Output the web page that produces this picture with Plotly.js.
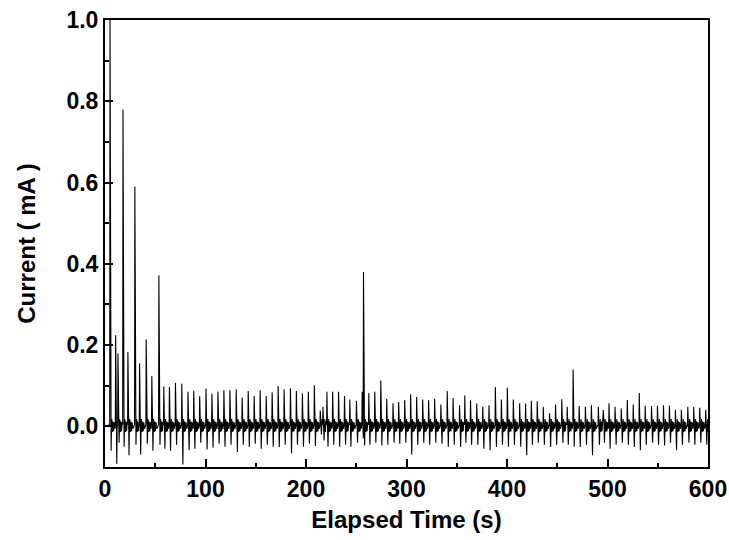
<!DOCTYPE html>
<html>
<head>
<meta charset="utf-8">
<script src="https://cdn.plot.ly/plotly-3.0.1.min.js"></script>
<style>html,body{margin:0;padding:0;background:#fff;}#chart{width:729px;height:540px;}</style>
</head>
<body>
<div id="chart"></div>
<script>
// Spike event times (s)
const spikeTime = [5.0,10.6,12.9,17.9,22.8,29.7,34.4,41.0,46.6,53.6,
  58.5,64.1,70.1,76.4,82.6,88.3,94.2,100.5,106.4,112.4,118.3,124.3,130.6,136.5,142.5,148.4,154.4,160.4,166.3,172.3,
  178.2,184.5,190.4,196.4,202.3,208.3,214.2,216.9,220.8,226.5,232.4,238.3,243.6,250.2,255.9,257.2,262.5,268.4,274.4,280.3,
  286.6,292.2,298.2,304.1,310.1,316.1,322.0,328.0,334.2,340.5,346.4,352.8,358.0,363.7,369.9,375.9,382.1,388.4,394.4,400.3,
  406.3,412.6,418.5,424.2,430.1,436.1,442.3,448.3,454.5,459.9,465.8,471.8,478.0,484.0,490.9,495.9,501.5,507.5,513.7,519.7,
  525.6,531.6,537.5,543.8,549.7,555.7,561.6,567.6,573.5,579.9,585.8,591.8,597.7];
// Peak current of each spike (mA)
const spikePeak = [1.0,0.224,0.179,0.78,0.183,0.59,0.155,0.214,0.124,0.372,
  0.098,0.097,0.107,0.105,0.085,0.088,0.074,0.093,0.080,0.086,0.089,0.089,0.091,0.071,0.087,0.075,0.089,0.075,0.084,0.099,
  0.091,0.093,0.087,0.081,0.085,0.101,0.039,0.048,0.085,0.085,0.085,0.075,0.066,0.063,0.085,0.38,0.082,0.085,0.113,0.068,
  0.057,0.060,0.064,0.079,0.072,0.066,0.064,0.068,0.054,0.087,0.070,0.052,0.076,0.064,0.056,0.048,0.052,0.097,0.066,0.095,
  0.066,0.057,0.056,0.063,0.062,0.048,0.032,0.054,0.067,0.048,0.14,0.050,0.048,0.052,0.048,0.040,0.057,0.048,0.044,0.065,
  0.054,0.082,0.051,0.050,0.051,0.052,0.051,0.041,0.041,0.048,0.048,0.046,0.041];
// Trough current right after each spike (mA)
const spikeTrough = [-0.06,-0.092,-0.04,-0.05,-0.071,-0.045,-0.069,-0.043,-0.06,-0.045,
  -0.055,-0.06,-0.045,-0.094,-0.059,-0.055,-0.04,-0.057,-0.052,-0.043,-0.05,-0.045,-0.063,-0.045,-0.05,-0.043,-0.055,-0.045,-0.05,-0.051,
  -0.045,-0.066,-0.045,-0.05,-0.043,-0.048,-0.02,-0.035,-0.05,-0.045,-0.05,-0.045,-0.05,-0.04,-0.03,-0.047,-0.045,-0.04,-0.047,-0.045,
  -0.04,-0.043,-0.04,-0.069,-0.045,-0.04,-0.045,-0.04,-0.043,-0.05,-0.045,-0.051,-0.04,-0.045,-0.045,-0.055,-0.059,-0.051,-0.045,-0.05,
  -0.045,-0.05,-0.071,-0.045,-0.04,-0.045,-0.051,-0.045,-0.04,-0.045,-0.05,-0.051,-0.045,-0.071,-0.045,-0.04,-0.055,-0.045,-0.04,-0.045,
  -0.051,-0.059,-0.045,-0.04,-0.045,-0.047,-0.04,-0.059,-0.045,-0.04,-0.045,-0.04,-0.045];
// small baseline ripple between spikes (mA), read as an average shape
const rippleOffset = [1.8, 2.4, 3.0, 3.6, 4.2, 4.9];
const rippleValue  = [0.018, -0.014, 0.012, -0.012, 0.010, -0.006];

const xAxisTicks = [0,100,200,300,400,500,600];
const yAxisTicks = [0.0,0.2,0.4,0.6,0.8,1.0];

// build the polyline table from the read values
const tx = [0], ty = [0.0];
for (let i = 0; i < spikeTime.length; i++) {
  const t = spikeTime[i];
  const next = i + 1 < spikeTime.length ? spikeTime[i+1] : 601;
  tx.push(t - 0.3); ty.push(0.004);
  tx.push(t); ty.push(spikePeak[i]);
  tx.push(t + 0.5); ty.push(0.012);
  tx.push(t + 1.1); ty.push(spikeTrough[i]);
  tx.push(t + 1.5); ty.push(-0.004);
  for (let k = 0; k < rippleOffset.length; k++) {
    if (t + rippleOffset[k] < next - 0.5) { tx.push(t + rippleOffset[k]); ty.push(rippleValue[k]); }
  }
}
tx.push(600); ty.push(0.0);

const fontFam = 'Arial, "Liberation Sans", Helvetica, sans-serif';
const trace = {x: tx, y: ty, type: 'scatter', mode: 'lines',
  line: {color: '#000', width: 1.1}, hoverinfo: 'skip', showlegend: false};

const axisCommon = {
  showgrid: false, zeroline: false, showline: true, mirror: true,
  linecolor: '#000', linewidth: 2, ticks: 'inside', tickcolor: '#000',
  tickwidth: 2, ticklen: 8, ticklabeloverflow: 'allow',
  tickfont: {family: fontFam, size: 23, color: '#000', weight: 700}
};

const layout = {
  width: 729, height: 540,
  margin: {l: 105, r: 21, t: 20, b: 73},
  paper_bgcolor: '#fff', plot_bgcolor: '#fff',
  showlegend: false,
  xaxis: Object.assign({}, axisCommon, {
    range: [0, 600], tickmode: 'array', tickvals: xAxisTicks,
    ticktext: xAxisTicks.map(String),
    minor: {dtick: 50, tick0: 0, ticks: 'inside', ticklen: 4, tickwidth: 2, tickcolor: '#000'},
    ticklabelstandoff: 0,
    title: {text: 'Elapsed Time (s)', font: {family: fontFam, size: 24, color: '#000', weight: 700}, standoff: 11}
  }),
  yaxis: Object.assign({}, axisCommon, {
    range: [-0.1, 1.0], tickmode: 'array', tickvals: yAxisTicks,
    ticktext: yAxisTicks.map(v => v.toFixed(1)),
    minor: {dtick: 0.1, tick0: 0, ticks: 'inside', ticklen: 4, tickwidth: 2, tickcolor: '#000'},
    ticklabelstandoff: 0,
    title: {text: 'Current ( mA )', font: {family: fontFam, size: 24, color: '#000', weight: 700}, standoff: 24}
  })
};

Plotly.newPlot('chart', [trace], layout, {staticPlot: true, displayModeBar: false});
</script>
</body>
</html>
